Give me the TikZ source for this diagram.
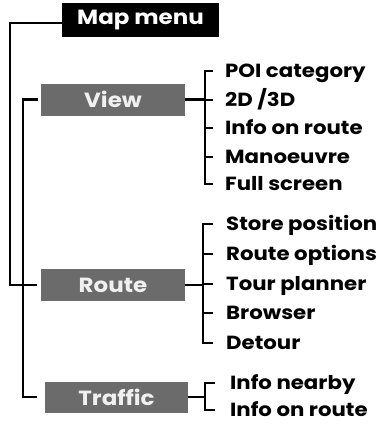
\documentclass[tikz,border=0pt]{standalone}
\usepackage{fontspec}
\setmainfont{Poppins}[FakeStretch=1.12]
\usetikzlibrary{positioning}
\definecolor{mgray}{HTML}{6B6B6B}
\definecolor{mlight}{HTML}{F0F0F0}
\tikzset{
  mlink/.style={draw=black, line width=2.8pt},
  mtop/.style={fill=black, text=white, inner sep=0pt,
               minimum width=157pt, minimum height=34pt,
               font=\fontsize{20.5}{20.5}\selectfont\bfseries},
  mgroup/.style={fill=mgray, text=mlight, inner sep=0pt,
                 minimum width=144pt, minimum height=32pt,
                 font=\fontsize{20.5}{20.5}\selectfont\bfseries},
  mitem/.style={anchor=west, inner sep=0pt, text height=13pt, text depth=0pt,
                font=\fontsize{19}{19}\selectfont\bfseries},
}

\begin{document}
\begin{tikzpicture}[x=1pt,y=-1pt]
  \useasboundingbox (0,0) rectangle (379,424);

  % boxes
  \node[mtop]   (map)     at (140.5,20)  {Map menu};
  \node[mgroup] (view)    at (113,99.5)  {View};
  \node[mgroup] (route)   at (113,285)   {Route};
  \node[mgroup, minimum width=143pt, minimum height=31pt]
                (traffic) at (116.5,397) {Traffic};

  % entries
  \foreach \n/\y/\t in {1/71/POI category, 2/100/{2D /3D}, 3/128/Info on route,
                        4/157/Manoeuvre, 5/184/Full screen}
    \node[mitem] (v\n) at (225,\y) {\t};
  \foreach \n/\y/\t in {1/224/Store position, 2/254/Route options,
                        3/284/Tour planner, 4/313/Browser, 5/343/Detour}
    \node[mitem] (r\n) at (226,\y) {\t};
  \node[mitem] (t1) at (230,383) {Info nearby};
  \node[mitem] (t2) at (230,410) {Info on route};

  % left side
  \coordinate (outer) at (10,0);
  \coordinate (inner) at (23,0);
  \draw[mlink, shorten >=4pt] ([yshift=-3pt]map.west) -| (outer |- route.west)
    -- (route.west);
  \draw[mlink, shorten <=3pt, shorten >=8pt] (view.west) -- (inner |- view.west)
    |- (traffic.west);

  % right side
  \draw[mlink] ([xshift=-12pt]v1.west) -| ([xshift=-20pt]v5.west)
    -- ([xshift=-12pt]v5.west);
  \foreach \i in {2,3,4}
    \draw[mlink] ([xshift=-12pt]v\i.west) -- ([xshift=-20pt]v\i.west);
  \draw[mlink] (view.east) -- ([xshift=-20pt]v1.west |- view.east);

  \draw[mlink] ([xshift=-13pt]r1.west) -| ([xshift=-23pt]r5.west)
    -- ([xshift=-13pt]r5.west);
  \foreach \i in {2,3,4}
    \draw[mlink] ([xshift=-13pt]r\i.west) -- ([xshift=-23pt]r\i.west);
  \draw[mlink] (route.east) -- ([xshift=-23pt]r1.west |- route.east);

  \draw[mlink] ([xshift=-15pt]t1.west) -| ([xshift=-25pt]t2.west)
    -- ([xshift=-15pt]t2.west);
  \draw[mlink] (traffic.east) -- ([xshift=-25pt]t1.west |- traffic.east);
\end{tikzpicture}
\end{document}
